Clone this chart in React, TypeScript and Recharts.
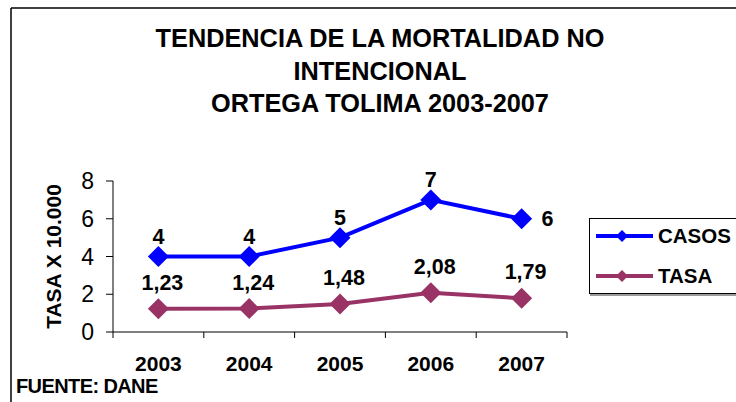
import React from 'react';
import { LineChart, Line, XAxis, YAxis, Legend } from 'recharts';

const years = ['2003', '2004', '2005', '2006', '2007'];
const casos = [4, 4, 5, 7, 6];
const tasa = [1.23, 1.24, 1.48, 2.08, 1.79];
const yTicks = [0, 2, 4, 6, 8];
const titleLines = ['TENDENCIA DE LA MORTALIDAD NO', 'INTENCIONAL', 'ORTEGA TOLIMA 2003-2007'];

const data = years.map((y, i) => ({ year: y, casos: casos[i], tasa: tasa[i] }));

const FONT = '"Liberation Sans", Arial, sans-serif';
const BLUE = '#0000FF';
const PLUM = '#993366';
const HALF = 45.4;

const fmt = (v: number) => (Number.isInteger(v) ? String(v) : v.toFixed(2).replace('.', ','));

const makeDiamond = (color: string, r: number) => (props: any) => {
  const { cx, cy, index } = props;
  if (cx == null || cy == null) return <g key={index} />;
  return (
    <polygon
      key={index}
      points={`${cx},${cy - r} ${cx + r},${cy} ${cx},${cy + r} ${cx - r},${cy}`}
      fill={color}
    />
  );
};

const casosLabel = (props: any) => {
  const { x, y, value, index } = props;
  if (index === casos.length - 1) {
    return (
      <text key={index} x={x + 26} y={y + 7.5} textAnchor="middle" fontFamily={FONT} fontWeight="bold" fontSize={21.5} fill="#000">
        {fmt(value)}
      </text>
    );
  }
  return (
    <text key={index} x={x} y={y - 13} textAnchor="middle" fontFamily={FONT} fontWeight="bold" fontSize={21.5} fill="#000">
      {fmt(value)}
    </text>
  );
};

const tasaLabel = (props: any) => {
  const { x, y, value, index } = props;
  return (
    <text key={index} x={x + 4} y={y - 19} textAnchor="middle" fontFamily={FONT} fontWeight="bold" fontSize={21.5} fill="#000">
      {fmt(value)}
    </text>
  );
};

const XTick = (props: any) => {
  const { x, y, payload, index } = props;
  const last = index === years.length - 1;
  return (
    <g>
      <line x1={x - HALF} x2={x - HALF} y1={y} y2={y + 6} stroke="#000" strokeWidth={1} />
      {last && <line x1={x + HALF} x2={x + HALF} y1={y} y2={y + 6} stroke="#000" strokeWidth={1} />}
      <text x={x} y={y + 39} textAnchor="middle" fontFamily={FONT} fontWeight="bold" fontSize={21} fill="#000">
        {payload.value}
      </text>
    </g>
  );
};

const LegendBox = () => {
  const items = [
    { name: 'CASOS', color: BLUE },
    { name: 'TASA', color: PLUM },
  ];
  return (
    <svg width={147} height={78} style={{ display: 'block' }}>
      <rect x={0.5} y={0.5} width={160} height={75} fill="#fff" stroke="#000" strokeWidth={1} />
      <line x1={1} x2={147} y1={77} y2={77} stroke="#999" strokeWidth={2} />
      {items.map((it, i) => {
        const cy = 18 + i * 40;
        return (
          <g key={it.name}>
            <line x1={7} x2={64} y1={cy} y2={cy} stroke={it.color} strokeWidth={4} />
            <polygon points={`33,${cy - 6} 39,${cy} 33,${cy + 6} 27,${cy}`} fill={it.color} />
            <text x={69} y={cy + 7} fontFamily={FONT} fontWeight="bold" fontSize={20.5} fill="#000">
              {it.name}
            </text>
          </g>
        );
      })}
    </svg>
  );
};

export default function App() {
  return (
    <div style={{ position: 'absolute', left: 0, top: 0, width: 736, height: 402, overflow: 'hidden', background: '#fff' }}>
      <LineChart width={736} height={402} data={data} margin={{ top: 181, right: 169, bottom: 30, left: 30 }}>
        <XAxis
          dataKey="year"
          padding={{ left: HALF, right: HALF }}
          tickLine={false}
          tickSize={0}
          tickMargin={0}
          tick={XTick}
          axisLine={{ stroke: '#000', strokeWidth: 1 }}
          height={40}
          interval={0}
        />
        <YAxis
          domain={[0, 8]}
          ticks={yTicks}
          width={83}
          tickSize={7}
          tickMargin={12}
          tick={{ fontFamily: FONT, fontSize: 23, fill: '#000' }}
          tickLine={{ stroke: '#000' }}
          axisLine={{ stroke: '#000', strokeWidth: 1 }}
          interval={0}
        />
        <Legend
          layout="vertical"
          align="center"
          verticalAlign="middle"
          content={<LegendBox />}
          wrapperStyle={{ left: 589, top: 218, width: 147, height: 78 }}
        />
        <Line
          dataKey="casos"
          name="CASOS"
          stroke={BLUE}
          strokeWidth={4}
          dot={makeDiamond(BLUE, 10.5)}
          activeDot={false}
          label={casosLabel}
          isAnimationActive={false}
        />
        <Line
          dataKey="tasa"
          name="TASA"
          stroke={PLUM}
          strokeWidth={4}
          dot={makeDiamond(PLUM, 10.5)}
          activeDot={false}
          label={tasaLabel}
          isAnimationActive={false}
        />
      </LineChart>
      <svg width={736} height={402} style={{ position: 'absolute', left: 0, top: 0, pointerEvents: 'none' }}>
        <line x1={11} x2={11} y1={8} y2={402} stroke="#000" strokeWidth={1.5} />
        <line x1={11} x2={736} y1={8} y2={8} stroke="#000" strokeWidth={1.5} />
        {titleLines.map((t, i) => (
          <text key={t} x={380} y={47 + i * 32.5} textAnchor="middle" fontFamily={FONT} fontWeight="bold" fontSize={25.3} fill="#000">
            {t}
          </text>
        ))}
        <text
          transform="translate(61,256.5) rotate(-90)"
          textAnchor="middle"
          fontFamily={FONT}
          fontWeight="bold"
          fontSize={21}
          fill="#000"
        >
          TASA X 10.000
        </text>
        <text x={16} y={393} fontFamily={FONT} fontWeight="bold" fontSize={20} letterSpacing={-0.6} fill="#000">
          FUENTE: DANE
        </text>
      </svg>
    </div>
  );
}
